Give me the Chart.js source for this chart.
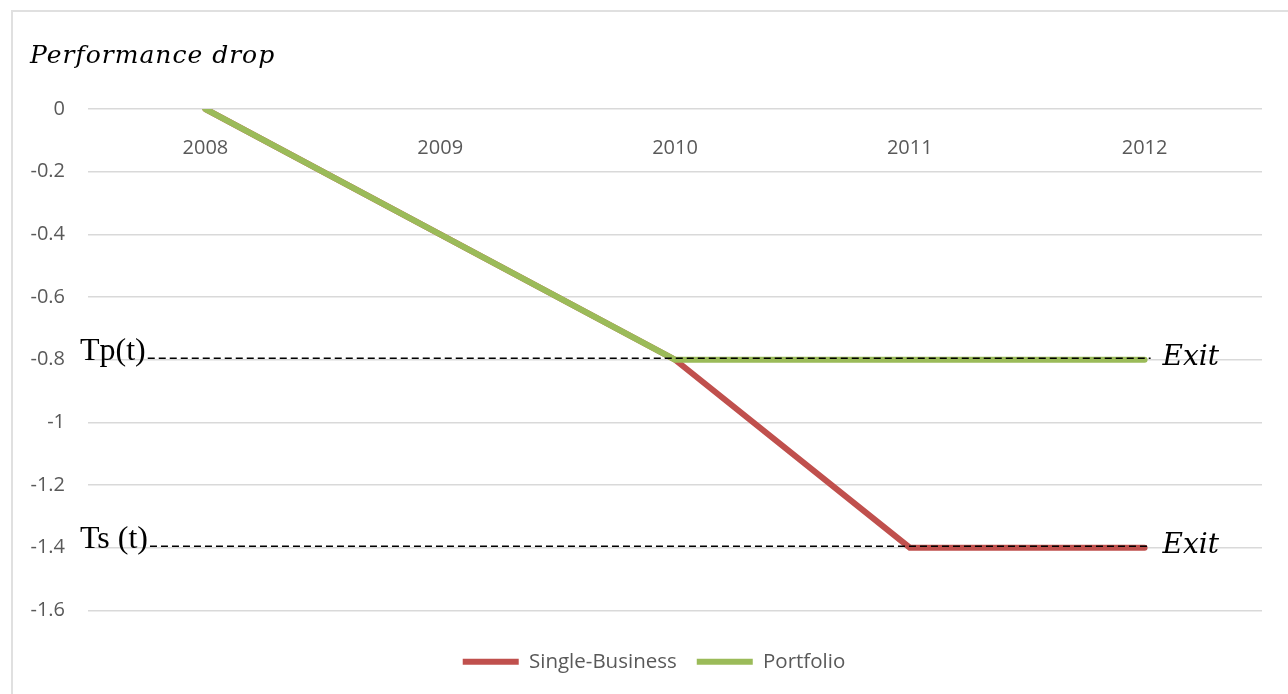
<!DOCTYPE html>
<html>
<head>
<meta charset="utf-8">
<script src="https://cdn.jsdelivr.net/npm/chart.js@4.4.1/dist/chart.umd.min.js"></script>
<style>
  html, body { margin: 0; padding: 0; background: #fff; }
  #wrap { position: relative; width: 1288px; height: 694px; overflow: hidden; }
  #frame {
    position: absolute; left: 11px; top: 10px; width: 1400px; height: 800px;
    border-left: 2px solid #e0e0e0; border-top: 2px solid #e0e0e0;
  }
  #chart { position: absolute; left: 0; top: 0; }
</style>
</head>
<body>
<div id="wrap">
  <div id="frame"></div>
  <canvas id="chart" width="1308" height="694"></canvas>
</div>
<script>
const years = ['2008', '2009', '2010', '2011', '2012'];
const singleBusiness = [0, -0.4, -0.8, -1.4, -1.4];
const portfolio = [0, -0.4, -0.8, -0.8, -0.8];

// exit thresholds for each firm type
const thresholdPortfolio = -0.8;
const thresholdSingle = -1.4;

const axisFont = { family: 'Open Sans', size: 20 };
const grey = '#595959';

// title, threshold lines and their labels
const annotations = {
  id: 'annotations',
  afterDatasetsDraw(chart) {
    const { ctx, chartArea, scales } = chart;
    const y = scales.y, x = scales.x;
    const endX = x.getPixelForValue(years.length - 1) + 6;

    ctx.save();
    ctx.fillStyle = '#000';
    ctx.textBaseline = 'alphabetic';

    ctx.font = 'italic 25px "DejaVu Serif"';
    ctx.letterSpacing = '1px';
    ctx.fillText('Performance drop', 30, 63);
    ctx.letterSpacing = '0px';

    const rows = [
      { label: 'Tp(t)', value: thresholdPortfolio },
      { label: 'Ts (t)', value: thresholdSingle }
    ];
    rows.forEach(r => {
      const py = y.getPixelForValue(r.value);
      ctx.font = '32px "Liberation Serif"';
      const startX = chartArea.left - 8;
      ctx.fillText(r.label, startX, py);
      const w = ctx.measureText(r.label).width;

      ctx.beginPath();
      ctx.setLineDash([7, 4]);
      ctx.lineWidth = 1.5;
      ctx.strokeStyle = '#000';
      ctx.moveTo(startX + w + 2, py - 1.5);
      ctx.lineTo(endX, py - 1.5);
      ctx.stroke();
      ctx.setLineDash([]);

      ctx.font = 'italic 28px "DejaVu Serif"';
      ctx.fillText('Exit', endX + 12, py + 5);
    });
    ctx.restore();
  }
};

new Chart(document.getElementById('chart'), {
  type: 'line',
  data: {
    labels: years,
    datasets: [
      {
        label: 'Single-Business',
        data: singleBusiness,
        borderColor: '#C0504D',
        backgroundColor: '#C0504D',
        borderWidth: 6,
        borderCapStyle: 'round',
        pointRadius: 0,
        order: 1
      },
      {
        label: 'Portfolio',
        data: portfolio,
        borderColor: '#9BBB59',
        backgroundColor: '#9BBB59',
        borderWidth: 6,
        borderCapStyle: 'round',
        pointRadius: 0,
        order: 0
      }
    ]
  },
  options: {
    responsive: false,
    animation: false,
    layout: { padding: { left: 0, right: 0, top: 109, bottom: 12 } },
    scales: {
      x: {
        position: { y: 0 },
        offset: true,
        grid: { display: false },
        border: { display: false },
        ticks: { color: grey, font: axisFont, padding: 19, maxRotation: 0 }
      },
      y: {
        min: -1.6,
        max: 0,
        afterFit(scale) { scale.width = 88; },
        grid: { color: '#d9d9d9', lineWidth: 1.5, drawTicks: false },
        border: { display: false },
        ticks: {
          stepSize: 0.2,
          color: grey,
          font: axisFont,
          padding: 23,
          callback: v => String(Math.round(v * 10) / 10)
        }
      },
      // blank margin on the right of the plot
      yRight: {
        position: 'right',
        min: -1.6,
        max: 0,
        afterFit(scale) { scale.width = 46; },
        grid: { display: false },
        border: { display: false },
        ticks: { display: false }
      }
    },
    plugins: {
      title: { display: false },
      tooltip: { enabled: false },
      legend: {
        position: 'bottom',
        title: { display: true, text: '', padding: { top: 20, bottom: 0 }, font: { size: 1 } },
        labels: {
          usePointStyle: true,
          pointStyle: 'line',
          pointStyleWidth: 56,
          color: grey,
          font: { family: 'Open Sans', size: 20.5 },
          padding: 20,
          sort: (a, b) => a.datasetIndex - b.datasetIndex
        }
      }
    }
  },
  plugins: [annotations]
});
</script>
</body>
</html>
